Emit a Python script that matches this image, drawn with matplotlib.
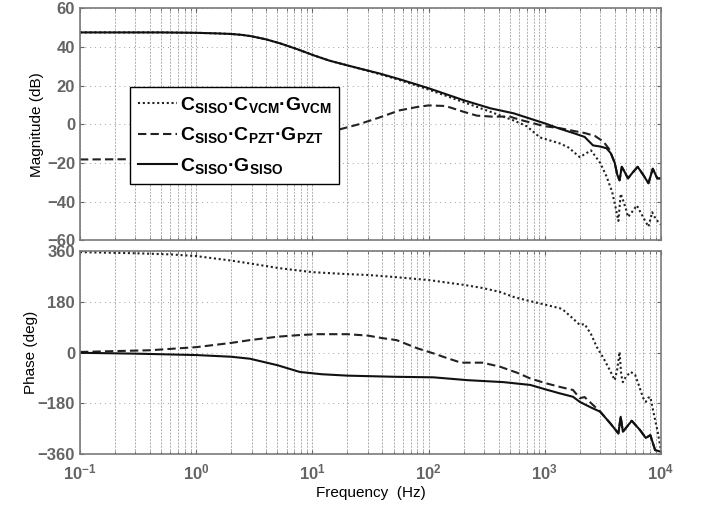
import matplotlib
matplotlib.use("Agg")
import matplotlib.pyplot as plt

plt.rcParams['font.family'] = ['Liberation Sans', 'DejaVu Sans']
plt.rcParams['font.weight'] = 'bold'
plt.rcParams['mathtext.fontset'] = 'custom'
plt.rcParams['mathtext.rm'] = 'Liberation Sans:bold'
plt.rcParams['mathtext.bf'] = 'Liberation Sans:bold'
plt.rcParams['mathtext.it'] = 'Liberation Sans:bold'
plt.rcParams['mathtext.default'] = 'bf'

# magnitude (dB)
magSolidF = [0.1, 0.5, 1, 1.5, 2, 2.5, 3, 4, 5.3, 7.5, 10.2, 14, 19.8, 28, 38, 56, 100, 200, 340,
             540, 700, 1000, 1350, 1800, 2200, 2600, 3000, 3400, 3700, 4000, 4200, 4400, 4600, 4800,
             5200, 5700, 6300, 7000, 7800, 8500, 9300, 10000]
magSolid = [47.6, 47.6, 47.4, 47.1, 46.8, 46.3, 45.6, 44.0, 41.9, 38.8, 35.8, 33.0, 30.6, 28.3,
            26.3, 23.4, 18.7, 12.5, 8.3, 5.7, 3.5, 0.5, -2.3, -4.7, -6.5, -10.9, -11.5, -12.4, -15,
            -20, -26, -29, -22, -24, -28, -25, -22, -26, -30.5, -23, -28, -28]

magDottedF = [0.1, 0.5, 1, 1.5, 2, 2.5, 3, 4, 5.3, 7.5, 10.2, 14, 19.8, 28, 38, 56, 100, 200, 340,
              540, 700, 910, 1350, 1600, 2000, 2500, 3000, 3400, 3800, 4100, 4300, 4500, 4700, 5000,
              5200, 5700, 6200, 7000, 7800, 8400, 9000, 10000]
magDotted = [47.6, 47.6, 47.4, 47.1, 46.8, 46.3, 45.6, 44.0, 41.9, 38.8, 35.8, 33.0, 30.6, 28.2,
             26.0, 23.0, 18.0, 11.5, 6.5, 2.0, -1.0, -6.8, -9.9, -12, -17, -13.5, -20, -27, -35,
             -44, -50, -36, -39, -44, -48, -45, -42, -48, -53, -45.5, -49, -52]

magDashedF = [0.1, 0.5, 1, 2, 4, 7, 10, 16, 25, 38, 56, 80, 100, 140, 200, 260, 350, 500, 600, 800,
              1000, 1350, 1800, 2200, 2700, 3200, 3600, 4000, 4200, 4400, 4600, 4800, 5200, 5700,
              6300, 7000, 7800, 8500, 9300, 10000]
magDashed = [-18.2, -18.0, -17.5, -16, -12.5, -8.5, -6, -3.1, 0, 3.6, 7.2, 9.0, 9.8, 9.5, 6.5, 4.5,
             4.0, 4.0, 2.5, 0.5, -1, -2, -3.5, -4.5, -6, -9, -13, -20, -26, -29, -22, -24, -28, -25,
             -22, -26, -30.5, -23, -28, -28]

# phase (deg)
phDottedF = [0.1, 0.3, 0.6, 1, 2, 3, 5, 10, 20, 30, 50, 100, 200, 290, 410, 540, 700, 1000, 1350,
             1450, 1700, 2000, 2200, 2500, 2800, 3200, 3600, 4000, 4200, 4400, 4550, 4700, 5000,
             5500, 6000, 6500, 7000, 7400, 7800, 8100, 8500, 9300, 10000]
phDotted = [356, 352, 348, 342, 326, 315, 300, 285, 278, 275, 268, 257, 240, 229, 215, 197, 185, 170,
            157, 150, 125, 98, 101, 65, 20, -20, -60, -98, -60, 2, -80, -105, -85, -69, -80, -120,
            -160, -175, -160, -158, -200, -275, -346]

phDashedF = [0.1, 0.4, 1, 2, 2.9, 5, 7.8, 11, 20, 30, 40, 53, 80, 110, 140, 190, 290, 410, 580, 750,
             1000, 1350, 1750, 2000, 2200, 3000, 3660, 4300, 4500, 4700, 5600, 6600, 7400, 8100,
             8900, 10000]
phDashed = [2, 8, 19, 34, 44, 56, 62, 65, 65, 60, 51, 44, 15, -3, -18, -36, -36, -50, -72, -92, -108,
            -122, -133, -162, -158, -210, -251, -287, -228, -281, -242, -275, -303, -293, -346, -352]

phSolidF = [0.1, 0.3, 1, 2, 2.9, 5, 7.8, 12, 20, 50, 110, 215, 440, 750, 1000, 1350, 1750, 2000,
            2500, 3000, 3660, 4300, 4500, 4700, 5600, 6600, 7400, 8100, 8900, 10000]
phSolid = [-1, -4, -9, -15, -22, -45, -69, -77, -82, -86, -88, -98, -105, -115, -130, -145, -157,
           -175, -195, -210, -251, -287, -228, -281, -242, -275, -303, -293, -346, -352]

labels = ['$C_{SISO}$·$C_{VCM}$·$G_{VCM}$', '$C_{SISO}$·$C_{PZT}$·$G_{PZT}$', '$C_{SISO}$·$G_{SISO}$']
magTicks = [-60, -40, -20, 0, 20, 40, 60]
phTicks = [-360, -180, 0, 180, 360]

fig = plt.figure(figsize=(7.04, 5.11), dpi=100)
axMag = fig.add_axes([0.1136, 0.530, 0.8253, 0.4534])
axPh = fig.add_axes([0.1136, 0.1115, 0.8253, 0.3973])

grey = '#646464'
for ax in (axMag, axPh):
    ax.set_xscale('log')
    ax.set_xlim(0.1, 1e4)
    ax.grid(True, which='both', axis='x', color='#a4a4a4', ls=(0, (2.5, 1.5)), lw=0.6)
    ax.grid(True, which='major', axis='y', color='#a0a0a0', ls=(0, (1, 4)), lw=0.7)
    ax.tick_params(which='both', direction='in', top=True, right=True, colors=grey,
                   labelsize=12, length=3)
    ax.tick_params(which='minor', length=2)
    for s in ax.spines.values():
        s.set_color('#7a7a7a')
        s.set_linewidth(1.2)

lw = 1.5
axMag.plot(magDottedF, magDotted, color='#222222', ls=(0, (1, 1.3)), lw=lw, label=labels[0])
axMag.plot(magDashedF, magDashed, color='#222222', ls=(0, (4, 2)), lw=lw, label=labels[1])
axMag.plot(magSolidF, magSolid, color='#111111', ls='-', lw=lw, label=labels[2])
axMag.set_ylim(-60, 60)
axMag.set_yticks(magTicks)
axMag.tick_params(labelbottom=False)
axMag.set_ylabel('Magnitude (dB)', fontsize=11, fontweight='normal', labelpad=2)

axPh.plot(phDottedF, phDotted, color='#222222', ls=(0, (1, 1.3)), lw=lw)
axPh.plot(phDashedF, phDashed, color='#222222', ls=(0, (4, 2)), lw=lw)
axPh.plot(phSolidF, phSolid, color='#111111', ls='-', lw=lw)
axPh.set_ylim(-360, 360)
axPh.set_yticks(phTicks)
axPh.tick_params(axis='x', which='major', pad=6)
axPh.set_ylabel('Phase (deg)', fontsize=11, fontweight='normal', labelpad=0)
axPh.set_xlabel('Frequency  (Hz)', fontsize=11, fontweight='normal', labelpad=3)

leg = axMag.legend(loc='upper left', bbox_to_anchor=(0.086, 0.661), borderaxespad=0,
                   fancybox=False, framealpha=1, edgecolor='black', fontsize=14,
                   handlelength=2.0, handletextpad=0.15, borderpad=0.4, labelspacing=0.55)
leg.get_frame().set_linewidth(1.0)

fig.savefig('out.png', dpi=100)
